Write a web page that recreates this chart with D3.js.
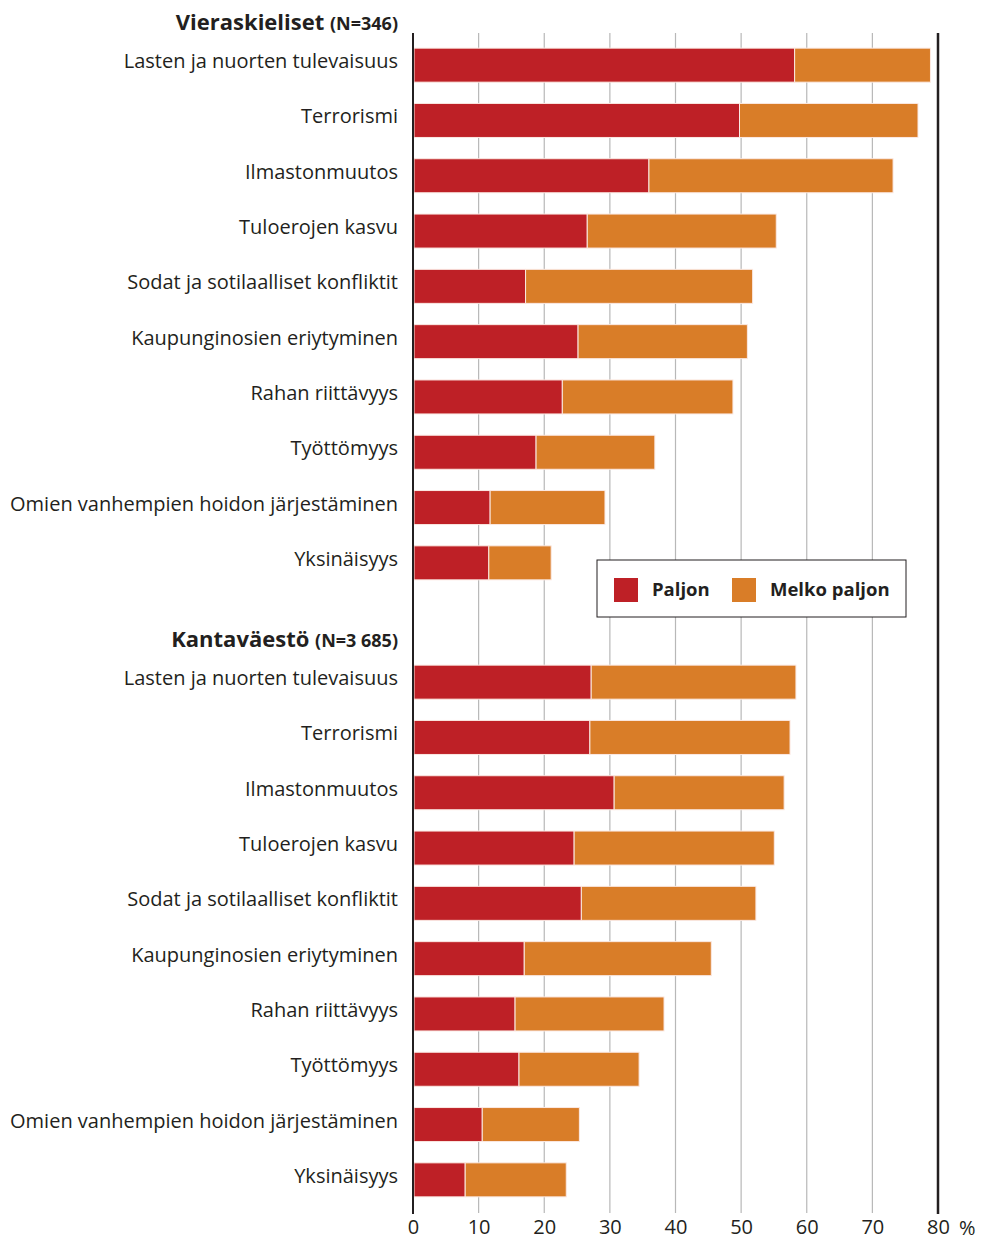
<!DOCTYPE html>
<html>
<head>
<meta charset="utf-8">
<script src="https://cdn.jsdelivr.net/npm/d3@7"></script>
<style>
  body { margin: 0; background: #fff; }
  text { font-family: "Open Sans", Lato, sans-serif; fill: #231f20; }
</style>
</head>
<body>
<div id="chart"></div>
<script>
// Data (%)
const categories = [
  "Lasten ja nuorten tulevaisuus",
  "Terrorismi",
  "Ilmastonmuutos",
  "Tuloerojen kasvu",
  "Sodat ja sotilaalliset konfliktit",
  "Kaupunginosien eriytyminen",
  "Rahan riittävyys",
  "Työttömyys",
  "Omien vanhempien hoidon järjestäminen",
  "Yksinäisyys"
];
const groups = [
  { title: "Vieraskieliset", n: "(N=346)" },
  { title: "Kantaväestö", n: "(N=3 685)" }
];
const vieraskielisetPaljon = [58.0, 49.6, 35.8, 26.4, 17.0, 25.0, 22.6, 18.6, 11.6, 11.4];
const vieraskielisetMelko  = [20.7, 27.2, 37.2, 28.8, 34.6, 25.8, 26.0, 18.1, 17.5, 9.5];
const kantavaestoPaljon    = [27.0, 26.8, 30.5, 24.4, 25.5, 16.8, 15.4, 16.0, 10.4, 7.8];
const kantavaestoMelko     = [31.2, 30.5, 25.9, 30.5, 26.6, 28.5, 22.7, 18.3, 14.8, 15.4];
const seriesNames = ["Paljon", "Melko paljon"];
const xTicks = [0, 10, 20, 30, 40, 50, 60, 70, 80];

const seriesColors = ["#be2026", "#d97d28"];

const W = 982, H = 1241;
const svg = d3.select("#chart")
    .append("svg")
    .attr("width", W)
    .attr("height", H);

const x = d3.scaleLinear().domain([0, 80]).range([413, 938]);
const color = d3.scaleOrdinal().domain(seriesNames).range(seriesColors);

// each group has its own band of rows
const groupRanges = [[37.5, 590.5], [654.5, 1207.5]];
const groupData = [
  categories.map((c, i) => ({ cat: c, Paljon: vieraskielisetPaljon[i], "Melko paljon": vieraskielisetMelko[i] })),
  categories.map((c, i) => ({ cat: c, Paljon: kantavaestoPaljon[i], "Melko paljon": kantavaestoMelko[i] }))
];

// Grid lines
svg.append("g")
    .selectAll("line")
    .data(xTicks.filter(d => d > 0 && d < 80))
    .enter()
    .append("line")
    .attr("x1", d => x(d)).attr("x2", d => x(d))
    .attr("y1", 33).attr("y2", 1213)
    .attr("stroke", "#b8b8b8")
    .attr("stroke-width", 1.2);

const stack = d3.stack().keys(seriesNames);

groupData.forEach((rows, gi) => {
    const y = d3.scaleBand()
        .domain(categories)
        .range(groupRanges[gi])
        .paddingInner(0.385)
        .paddingOuter(0.1925);

    const g = svg.append("g");

    g.selectAll(".layer")
        .data(stack(rows))
        .enter()
        .append("g")
        .attr("fill", d => color(d.key))
        .selectAll("rect")
        .data(d => d)
        .enter()
        .append("rect")
        .attr("x", d => x(d[0]) + 1)
        .attr("y", d => y(d.data.cat))
        .attr("width", d => x(d[1]) - x(d[0]))
        .attr("height", y.bandwidth())
        .attr("stroke", "#fbe9e3")
        .attr("stroke-width", 1);

    // category labels
    g.selectAll(".label")
        .data(categories)
        .enter()
        .append("text")
        .attr("x", 398)
        .attr("y", d => y(d) + y.bandwidth() / 2 - 4)
        .attr("dy", "0.35em")
        .attr("text-anchor", "end")
        .style("font-size", "20px")
        .text(d => d);

    // group header
    const head = g.append("text")
        .attr("x", 398)
        .attr("y", groupRanges[gi][0] - 8)
        .attr("text-anchor", "end")
        .style("font-weight", "bold");
    head.append("tspan").style("font-size", "22px").text(groups[gi].title + " ");
    head.append("tspan").style("font-size", "18px").text(groups[gi].n);
});

// left axis line and 80 line
svg.append("line")
    .attr("x1", x(0)).attr("x2", x(0))
    .attr("y1", 33).attr("y2", 1214)
    .attr("stroke", "#231f20").attr("stroke-width", 2);
svg.append("line")
    .attr("x1", x(80)).attr("x2", x(80))
    .attr("y1", 33).attr("y2", 1214)
    .attr("stroke", "#231f20").attr("stroke-width", 2.5);

// x axis labels
const xAxis = d3.axisBottom(x).tickValues(xTicks).tickSize(0).tickPadding(0);
const ax = svg.append("g")
    .attr("transform", "translate(0,1220)")
    .call(xAxis);
ax.select(".domain").remove();
ax.selectAll("text")
    .style("font-size", "20px")
    .style("font-family", "'Open Sans', sans-serif")
    .attr("fill", "#231f20");
svg.append("text")
    .attr("x", 959)
    .attr("y", 1235)
    .style("font-size", "20px")
    .text("%");

// Legend
const legend = svg.append("g")
    .attr("transform", "translate(597,560)");
legend.append("rect")
    .attr("width", 309).attr("height", 57)
    .attr("fill", "#fff")
    .attr("stroke", "#231f20")
    .attr("stroke-width", 1);
const legendX = [17, 135];
legend.selectAll(".sw")
    .data(seriesNames)
    .enter()
    .append("rect")
    .attr("x", (d, i) => legendX[i])
    .attr("y", 18)
    .attr("width", 24).attr("height", 24)
    .attr("fill", d => color(d));
legend.selectAll(".lt")
    .data(seriesNames)
    .enter()
    .append("text")
    .attr("x", (d, i) => legendX[i] + 38)
    .attr("y", 30)
    .attr("dy", "0.35em")
    .style("font-size", "18.5px")
    .style("font-weight", "bold")
    .text(d => d);
</script>
</body>
</html>
